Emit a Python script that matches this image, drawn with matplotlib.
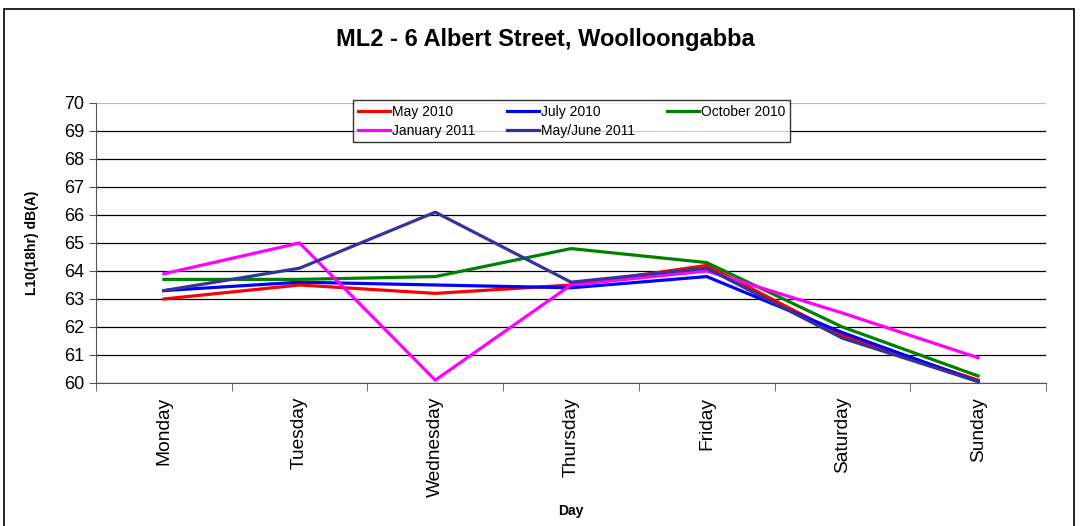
import matplotlib.pyplot as plt
import numpy as np

plt.rcParams['font.family'] = ['Liberation Sans', 'DejaVu Sans']

days = ['Monday', 'Tuesday', 'Wednesday', 'Thursday', 'Friday', 'Saturday', 'Sunday']
may_2010 = [63.0, 63.5, 63.2, 63.5, 64.2, 61.7, 60.1]
july_2010 = [63.3, 63.6, 63.5, 63.4, 63.8, 61.8, 60.05]
october_2010 = [63.7, 63.7, 63.8, 64.8, 64.3, 62.0, 60.25]
january_2011 = [63.9, 65.0, 60.1, 63.5, 64.0, 62.5, 60.9]
mayjune_2011 = [63.3, 64.1, 66.1, 63.6, 64.1, 61.6, 60.05]

series = [
    ('May 2010', may_2010, '#ff0000'),
    ('July 2010', july_2010, '#0000ff'),
    ('October 2010', october_2010, '#008000'),
    ('January 2011', january_2011, '#ff00ff'),
    ('May/June 2011', mayjune_2011, '#333399'),
]

fig = plt.figure(figsize=(10.8, 5.26), dpi=100)
ax = fig.add_axes([0.0889, 0.2719, 0.8796, 0.5323])

x = np.arange(len(days))
lines = []
for label, vals, col in series:
    ln, = ax.plot(x, vals, color=col, lw=2.3, label=label, solid_joinstyle='miter')
    lines.append(ln)

ax.set_xlim(-0.5, len(days) - 0.5)
ax.set_ylim(60, 70)
ax.set_yticks(np.arange(60, 71, 1))
ax.set_xticks(x)
ax.set_xticklabels(days, rotation=90, fontsize=13.8)
ax.set_xticks(np.arange(-0.5, len(days), 1), minor=True)
ax.tick_params(axis='x', which='major', length=0, pad=10)
ax.tick_params(axis='x', which='minor', length=6, direction='out', color='#555555')
ax.tick_params(axis='y', labelsize=13, length=5, direction='out', color='#555555')

ax.grid(axis='y', color='black', lw=0.9)
ax.set_axisbelow(True)
ax.get_ygridlines()[-1].set_color('#bbbbbb')
for s in ['top', 'right']:
    ax.spines[s].set_visible(False)
ax.spines['left'].set_color('#555555')
ax.spines['bottom'].set_color('#555555')

ax.set_ylabel('L10(18hr) dB(A)', fontsize=10, fontweight='bold', labelpad=18)
ax.set_xlabel('Day', fontsize=10, fontweight='bold', labelpad=5)

# row-wise legend order (matplotlib fills columns first)
order = [0, 3, 1, 4, 2]
leg = ax.legend([lines[i] for i in order], [series[i][0] for i in order],
                ncol=3, loc='upper left', bbox_to_anchor=(0.263, 1.036),
                fontsize=10, frameon=True, fancybox=False, edgecolor='black',
                handlelength=2.3, handletextpad=0.15, columnspacing=2.3,
                borderpad=0.35, labelspacing=0.35)
leg.get_frame().set_linewidth(1.0)

fig.text(0.505, 0.924, 'ML2 - 6 Albert Street, Woolloongabba', ha='center', va='center',
         fontsize=17, fontweight='bold')

fig.patches.append(plt.Rectangle((0.004, -0.01), 0.99, 0.993, transform=fig.transFigure,
                                 fill=False, edgecolor='black', lw=1.2))

fig.savefig('out.png', dpi=100)
